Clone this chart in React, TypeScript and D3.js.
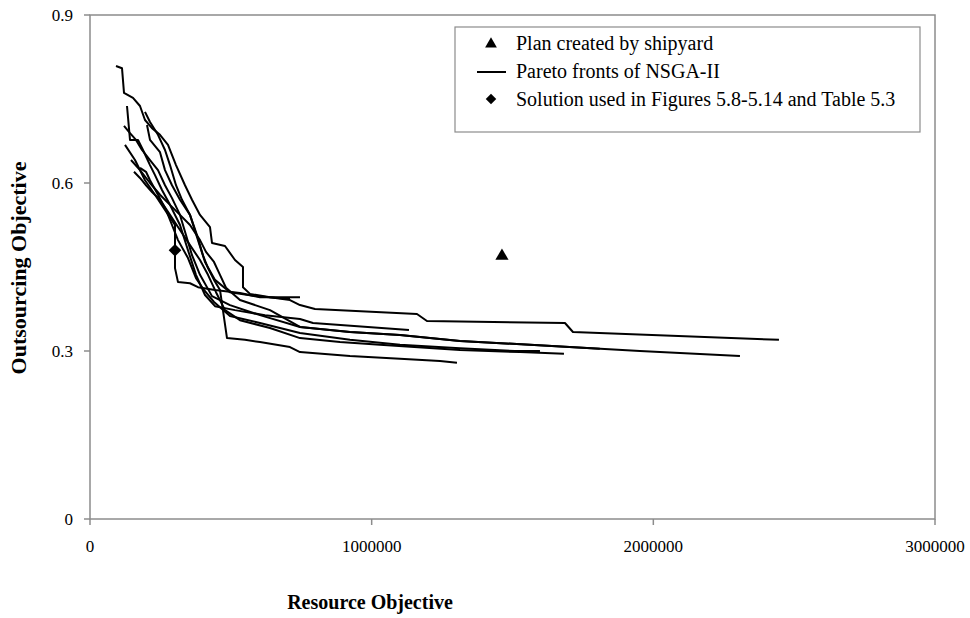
import React from "react";
import * as d3 from "d3";

const xTicks = [0, 1000000, 2000000, 3000000];
const yTicks = [0, 0.3, 0.6, 0.9];

const front1 = [[92300,0.809],[113600,0.805],[120700,0.761],[152650,0.752],[177500,0.7375],[195250,0.7125],[220100,0.698],[248500,0.686],[276900,0.668],[305300,0.632],[337250,0.596],[362100,0.570],[390500,0.543],[426000,0.521],[433100,0.493],[479250,0.4875],[514750,0.4625],[543150,0.450],[543150,0.414],[568000,0.402],[639000,0.396],[710000,0.391],[745500,0.382],[798750,0.375],[1160850,0.366],[1196350,0.3536],[1686250,0.350],[1714650,0.334],[2446000,0.320]];
const front2 = [[202350,0.7036],[213000,0.677],[248500,0.655],[266250,0.623],[291100,0.596],[319500,0.570],[355000,0.543],[383400,0.498],[408250,0.459],[443750,0.427],[497000,0.405],[585750,0.398],[710000,0.393]];
const front3 = [[131350,0.7375],[142000,0.677],[170400,0.677],[188150,0.659],[213000,0.632],[230750,0.614],[255600,0.5875],[284000,0.561],[319500,0.525],[347900,0.480],[376300,0.436],[408250,0.400],[443750,0.380],[514750,0.373],[621250,0.364],[745500,0.357],[791650,0.350],[1132450,0.3375]];
const front4 = [[120700,0.702],[142000,0.689],[163300,0.677],[184600,0.659],[213000,0.641],[241400,0.623],[266250,0.596],[291100,0.573],[319500,0.543],[340800,0.507],[362100,0.471],[390500,0.436],[433100,0.398],[497000,0.382],[603500,0.364],[745500,0.343],[923000,0.334],[1100500,0.3286],[1313500,0.318],[1562000,0.311],[1952500,0.300],[2307500,0.291]];
const front5 = [[156200,0.620],[177500,0.609],[198800,0.596],[220100,0.584],[248500,0.570],[284000,0.543],[319500,0.516],[355000,0.489],[390500,0.4625],[418900,0.436],[447300,0.405],[479250,0.373],[532500,0.355],[639000,0.341],[745500,0.323],[887500,0.316],[1029500,0.311],[1313500,0.302],[1526500,0.298],[1682700,0.295]];
const front6 = [[195250,0.727],[213000,0.709],[241400,0.686],[266250,0.659],[284000,0.632],[305300,0.596],[326600,0.570],[355000,0.543],[379850,0.507],[401150,0.471],[418900,0.448],[440200,0.427],[461500,0.409],[486350,0.323],[550250,0.320],[603500,0.316],[710000,0.307],[745500,0.298],[923000,0.291],[1100500,0.286],[1242500,0.282],[1302850,0.279]];
const front7 = [[177500,0.627],[198800,0.620],[213000,0.605],[241400,0.579],[269800,0.552],[291100,0.525],[312400,0.498],[347900,0.466],[376300,0.430],[404700,0.409],[440200,0.3875],[497000,0.3625],[603500,0.350],[745500,0.332],[923000,0.320],[1100500,0.311],[1313500,0.305],[1508750,0.300],[1597500,0.300]];
const front8 = [[124250,0.668],[159750,0.641],[195250,0.605],[230750,0.579],[266250,0.552],[301750,0.525],[301750,0.448],[312400,0.423],[355000,0.421],[383400,0.414],[443750,0.409],[532500,0.4036],[603500,0.396],[745500,0.396]];
const front9 = [[145550,0.641],[177500,0.623],[213000,0.600],[248500,0.579],[284000,0.561],[319500,0.543],[355000,0.525],[390500,0.498],[411800,0.477],[440200,0.459],[461500,0.436],[482800,0.413],[532500,0.391],[639000,0.373],[745500,0.343],[923000,0.334],[1100500,0.3286],[1313500,0.318],[1562000,0.311],[1810000,0.304]];

const fronts = [front1, front2, front3, front4, front5, front6, front7, front8, front9];

const shipyardPlan = [1462600, 0.4696];
const chosenSolution = [301750, 0.48];

const legendLabels = ["Plan created by shipyard", "Pareto fronts of NSGA-II", "Solution used in Figures 5.8-5.14 and Table 5.3"];

const W = 970, H = 618;
const left = 90, right = 935, top = 15, bottom = 519;

export default function App() {
  const x = d3.scaleLinear().domain([0, 3000000]).range([left, right]);
  const y = d3.scaleLinear().domain([0, 0.9]).range([bottom, top]);
  const line = d3.line<number[]>().x(d => x(d[0])).y(d => y(d[1]));
  const tri = d3.symbol().type(d3.symbolTriangle).size(75)();
  const dia = d3.symbol().type(d3.symbolSquare).size(80)();
  const triL = d3.symbol().type(d3.symbolTriangle).size(60)();
  const diaL = d3.symbol().type(d3.symbolSquare).size(55)();
  const font = "'Liberation Serif', 'Times New Roman', serif";
  const axisColor = "#8c8c8c";
  return (
    <svg width={W} height={H} style={{ position: "absolute", left: 0, top: 0, background: "#fff" }} fontFamily={font}>
      <rect x={left} y={top} width={right - left} height={bottom - top} fill="none" stroke={axisColor} strokeWidth={1.5} />
      {yTicks.map(t => (
        <g key={"y" + t}>
          <line x1={left - 6} x2={left} y1={y(t)} y2={y(t)} stroke={axisColor} strokeWidth={1.5} />
          <text x={left - 17} y={y(t)} dy="0.35em" textAnchor="end" fontSize={17}>{t === 0 ? "0" : d3.format(".1f")(t)}</text>
        </g>
      ))}
      {xTicks.map(t => (
        <g key={"x" + t}>
          <line x1={x(t)} x2={x(t)} y1={bottom} y2={bottom + 6} stroke={axisColor} strokeWidth={1.5} />
          <text x={x(t)} y={bottom + 33} textAnchor="middle" fontSize={17}>{t}</text>
        </g>
      ))}
      {fronts.map((f, i) => (
        <path key={i} d={line(f) || ""} fill="none" stroke="#000" strokeWidth={2} strokeLinejoin="round" />
      ))}
      <path d={tri || ""} transform={`translate(${x(shipyardPlan[0])},${y(shipyardPlan[1])})`} fill="#000" />
      <path d={dia || ""} transform={`translate(${x(chosenSolution[0])},${y(chosenSolution[1])}) rotate(45)`} fill="#000" />
      <text x={370} y={609} textAnchor="middle" fontSize={20} fontWeight="bold">Resource Objective</text>
      <text transform={`translate(26,${(top + bottom) / 2 + 1}) rotate(-90)`} textAnchor="middle" fontSize={22} fontWeight="bold">Outsourcing Objective</text>
      <g>
        <rect x={455} y={27} width={465} height={105} fill="#fff" stroke={axisColor} strokeWidth={1.2} />
        <path d={triL || ""} transform="translate(491,44)" fill="#000" />
        <text x={516} y={50} fontSize={20}>{legendLabels[0]}</text>
        <line x1={477} x2={506} y1={72} y2={72} stroke="#000" strokeWidth={2} />
        <text x={516} y={78} fontSize={20}>{legendLabels[1]}</text>
        <path d={diaL || ""} transform="translate(491,99) rotate(45)" fill="#000" />
        <text x={516} y={106} fontSize={20}>{legendLabels[2]}</text>
      </g>
    </svg>
  );
}
